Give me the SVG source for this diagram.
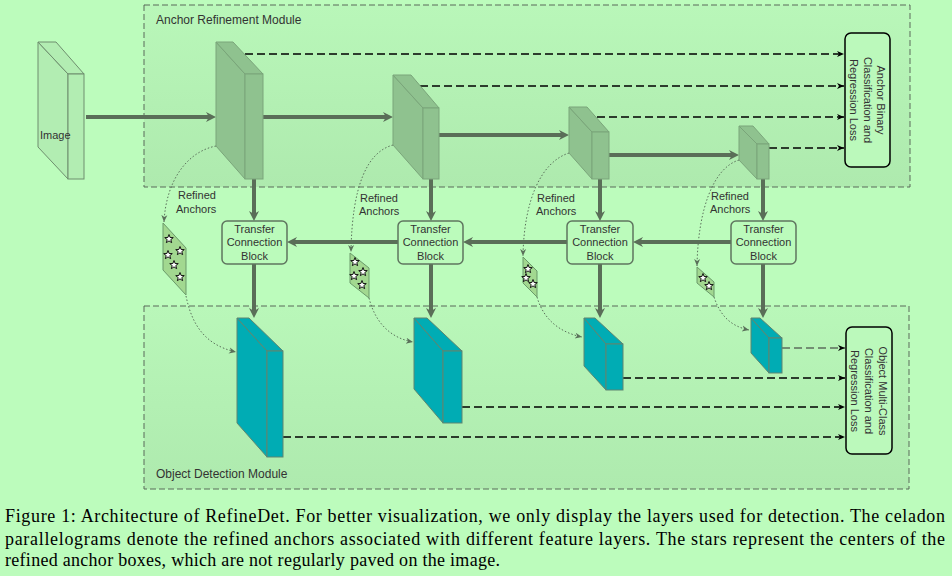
<svg xmlns="http://www.w3.org/2000/svg" xmlns:xlink="http://www.w3.org/1999/xlink" width="952" height="576" viewBox="0 0 952 576">
<style>
.lbl{font-family:"Liberation Sans",Arial,sans-serif;fill:#333;}
.mod{font-size:12px;}
.sm{font-size:11px;}
.cap{font-family:"Liberation Serif","Times New Roman",serif;font-size:18px;fill:#000;}
.modbox{fill:url(#modg);stroke:#5a6a5a;stroke-width:1;stroke-dasharray:6 3;}
.thick{stroke:#5a6e58;stroke-width:4;fill:none;marker-end:url(#thk);}
.dash{stroke:#000;stroke-width:1.3;stroke-dasharray:8 4;fill:none;marker-end:url(#dsh);}
.dashg{stroke:#5e6e5e;stroke-width:1.3;stroke-dasharray:8 4;fill:none;marker-end:url(#dsh);}
.dot{stroke:#5a705a;stroke-width:1;stroke-dasharray:1.5 2;fill:none;marker-end:url(#dt);}
.arm{fill:#8fc28f;stroke:#7aa57a;stroke-width:1;}
.odm{fill:#00acb4;stroke:#5e8570;stroke-width:1;}
.img{fill:#b2edb2;stroke:#6e8e6e;stroke-width:1;}
.tcb{fill:#bbfbbb;stroke:#5f755f;stroke-width:1.5;}
.loss{fill:#bbf9bb;stroke:#000;stroke-width:1.5;}
.par{fill:#a2d890;stroke:#6a9a6a;stroke-width:1;}
.star{fill:#fff;stroke:#000;stroke-width:0.9;}
</style>
<defs>
<linearGradient id="modg" x1="0" y1="0" x2="0" y2="1">
<stop offset="0" stop-color="#b9f7b9"/>
<stop offset="1" stop-color="#aeeaae"/>
</linearGradient>
<marker id="thk" markerUnits="userSpaceOnUse" viewBox="0 0 10 10" markerWidth="10" markerHeight="10" refX="4" refY="5" orient="auto">
<path d="M0,0 L10,5 L0,10 L3,5 Z" fill="#5a6e58"/>
</marker>
<marker id="dsh" markerUnits="userSpaceOnUse" viewBox="0 0 8 8" markerWidth="8" markerHeight="8" refX="7" refY="4" orient="auto">
<path d="M0,1 L7,4 L0,7 L2,4 Z" fill="#000"/>
</marker>
<marker id="dt" markerUnits="userSpaceOnUse" viewBox="0 0 8 8" markerWidth="8" markerHeight="8" refX="7" refY="4" orient="auto">
<path d="M0,1 L7,4 L0,7 L2,4 Z" fill="#5a705a"/>
</marker>
<path id="st" class="star" d="M0,-4.5 L1.12,-1.54 L4.28,-1.39 L1.81,0.59 L2.65,3.64 L0,1.9 L-2.65,3.64 L-1.81,0.59 L-4.28,-1.39 L-1.12,-1.54 Z"/>
</defs>
<rect width="952" height="576" fill="#bcfcbc"/>

<g id="arm-module">
<rect class="modbox" x="144" y="5" width="766" height="182"/>
<text class="lbl mod" x="156" y="24">Anchor Refinement Module</text>
</g>
<g id="odm-module">
<rect class="modbox" x="144" y="306" width="765" height="183"/>
<text class="lbl mod" x="156" y="478">Object Detection Module</text>
</g>

<g id="connectors">
<line class="thick" x1="86" y1="117" x2="210" y2="117"/>
<line class="thick" x1="262" y1="117" x2="387" y2="117"/>
<line class="thick" x1="438" y1="135" x2="563" y2="135"/>
<line class="thick" x1="608" y1="155" x2="733" y2="155"/>
<line class="dash" x1="245" y1="54" x2="844" y2="54"/>
<line class="dash" x1="420" y1="86" x2="844" y2="86"/>
<line class="dash" x1="597" y1="117" x2="844" y2="117"/>
<line class="dash" x1="769" y1="148" x2="844" y2="148"/>
<line class="thick" x1="254" y1="179" x2="254" y2="215"/>
<line class="thick" x1="431" y1="179" x2="431" y2="215"/>
<line class="thick" x1="600" y1="179" x2="600" y2="215"/>
<line class="thick" x1="763" y1="179" x2="763" y2="215"/>
<line class="thick" x1="731" y1="242" x2="639" y2="242"/>
<line class="thick" x1="567" y1="242" x2="469" y2="242"/>
<line class="thick" x1="398" y1="242" x2="293" y2="242"/>
<line class="thick" x1="254" y1="264" x2="254" y2="312"/>
<line class="thick" x1="431" y1="264" x2="431" y2="312"/>
<line class="thick" x1="600" y1="264" x2="600" y2="312"/>
<line class="thick" x1="763" y1="264" x2="763" y2="312"/>
<line class="dash" x1="283" y1="437" x2="845" y2="437"/>
<line class="dash" x1="462" y1="407" x2="845" y2="407"/>
<line class="dash" x1="623" y1="378" x2="845" y2="378"/>
<line class="dashg" x1="782" y1="348" x2="845" y2="348"/>
<path class="dot" d="M216,146 C186,152 166,182 164,222"/>
<path class="dot" d="M186,296 C192,325 205,345 236,352"/>
<path class="dot" d="M393,145 C367,152 352,186 351,252"/>
<path class="dot" d="M369,298 C375,322 390,338 413,342"/>
<path class="dot" d="M569,153 C541,162 524,200 523,256"/>
<path class="dot" d="M537,297 C543,318 558,332 582,337"/>
<path class="dot" d="M739,160 C713,168 698,210 697,266"/>
<path class="dot" d="M714,297 C720,315 730,326 749,330"/>
</g>

<g id="image">
<polygon class="img" points="38,42 68,74 68,179 38,147"/>
<polygon class="img" points="38,42 56,42 84,74 68,74"/>
<rect class="img" x="68" y="74" width="16" height="105"/>
<text class="lbl sm" x="40" y="139">Image</text>
</g>

<g id="arm1">
<polygon class="arm" points="216,42 245,74 245,179 216,146"/>
<polygon class="arm" points="216,42 233,42 263,74 245,74"/>
<rect class="arm" x="245" y="74" width="18" height="105"/>
</g>
<g id="arm2">
<polygon class="arm" points="393,75 423,108 423,179 393,145"/>
<polygon class="arm" points="393,75 411,75 439,108 423,108"/>
<rect class="arm" x="423" y="108" width="16" height="71"/>
</g>
<g id="arm3">
<polygon class="arm" points="569,107 592,132 592,179 569,153"/>
<polygon class="arm" points="569,107 587,107 609,132 592,132"/>
<rect class="arm" x="592" y="132" width="17" height="47"/>
</g>
<g id="arm4">
<polygon class="arm" points="739,126 757,144 757,179 739,160"/>
<polygon class="arm" points="739,126 753,126 769,144 757,144"/>
<rect class="arm" x="757" y="144" width="12" height="35"/>
</g>

<g id="loss-arm">
<rect class="loss" x="845" y="33" width="45" height="134" rx="6"/>
<g transform="translate(867.5,100) rotate(90)">
<text class="lbl sm" text-anchor="middle" x="0" y="-9">Anchor Binary</text>
<text class="lbl sm" text-anchor="middle" x="0" y="4">Classification and</text>
<text class="lbl sm" text-anchor="middle" x="0" y="17.5">Regression Loss</text>
</g>
</g>

<g id="ra1">
<text class="lbl sm" x="178" y="199">Refined</text>
<text class="lbl sm" x="176" y="213">Anchors</text>
</g>
<g id="ra2">
<text class="lbl sm" x="360" y="202">Refined</text>
<text class="lbl sm" x="359" y="215">Anchors</text>
</g>
<g id="ra3">
<text class="lbl sm" x="537" y="202">Refined</text>
<text class="lbl sm" x="536" y="215">Anchors</text>
</g>
<g id="ra4">
<text class="lbl sm" x="711" y="200">Refined</text>
<text class="lbl sm" x="710" y="213">Anchors</text>
</g>

<g id="tcb1">
<rect class="tcb" x="222" y="221" width="65" height="43" rx="5"/>
<text class="lbl sm" text-anchor="middle" x="254.5" y="233">Transfer</text>
<text class="lbl sm" text-anchor="middle" x="254.5" y="246">Connection</text>
<text class="lbl sm" text-anchor="middle" x="254.5" y="260">Block</text>
</g>
<g id="tcb2">
<rect class="tcb" x="398" y="221" width="65" height="43" rx="5"/>
<text class="lbl sm" text-anchor="middle" x="430.5" y="233">Transfer</text>
<text class="lbl sm" text-anchor="middle" x="430.5" y="246">Connection</text>
<text class="lbl sm" text-anchor="middle" x="430.5" y="260">Block</text>
</g>
<g id="tcb3">
<rect class="tcb" x="567" y="221" width="66" height="43" rx="5"/>
<text class="lbl sm" text-anchor="middle" x="600" y="233">Transfer</text>
<text class="lbl sm" text-anchor="middle" x="600" y="246">Connection</text>
<text class="lbl sm" text-anchor="middle" x="600" y="260">Block</text>
</g>
<g id="tcb4">
<rect class="tcb" x="731" y="221" width="65" height="43" rx="5"/>
<text class="lbl sm" text-anchor="middle" x="763.5" y="233">Transfer</text>
<text class="lbl sm" text-anchor="middle" x="763.5" y="246">Connection</text>
<text class="lbl sm" text-anchor="middle" x="763.5" y="260">Block</text>
</g>

<g id="anchors1">
<polygon class="par" points="163,223 186,248 186,295 163,270"/>
<use xlink:href="#st" x="169" y="239"/>
<use xlink:href="#st" x="180" y="251"/>
<use xlink:href="#st" x="168" y="255"/>
<use xlink:href="#st" x="174" y="265"/>
<use xlink:href="#st" x="180" y="277"/>
</g>
<g id="anchors2">
<polygon class="par" points="350,253 369,268 369,298 350,283"/>
<use xlink:href="#st" x="355" y="262"/>
<use xlink:href="#st" x="363" y="272"/>
<use xlink:href="#st" x="354" y="276"/>
<use xlink:href="#st" x="362" y="285"/>
</g>
<g id="anchors3">
<polygon class="par" points="523,257 537,271 537,297 523,283"/>
<use xlink:href="#st" x="528" y="269"/>
<use xlink:href="#st" x="526" y="278"/>
<use xlink:href="#st" x="533" y="284"/>
</g>
<g id="anchors4">
<polygon class="par" points="697,267 714,282 714,297 697,283"/>
<use xlink:href="#st" x="703" y="278"/>
<use xlink:href="#st" x="709" y="286"/>
</g>

<g id="odm1">
<polygon class="odm" points="237,318 267,351 267,457 237,423"/>
<polygon class="odm" points="237,318 249,318 283,351 267,351"/>
<rect class="odm" x="267" y="351" width="16" height="106"/>
</g>
<g id="odm2">
<polygon class="odm" points="414,318 443,351 443,423 414,389"/>
<polygon class="odm" points="414,318 427,318 462,351 443,351"/>
<rect class="odm" x="443" y="351" width="19" height="72"/>
</g>
<g id="odm3">
<polygon class="odm" points="584,318 606,344 606,390 584,366"/>
<polygon class="odm" points="584,318 595,318 623,344 606,344"/>
<rect class="odm" x="606" y="344" width="17" height="46"/>
</g>
<g id="odm4">
<polygon class="odm" points="751,318 769,338 769,373 751,353"/>
<polygon class="odm" points="751,318 760,318 782,338 769,338"/>
<rect class="odm" x="769" y="338" width="13" height="35"/>
</g>

<g id="loss-odm">
<rect class="loss" x="846" y="327" width="46" height="127" rx="6"/>
<g transform="translate(869,391) rotate(90)">
<text class="lbl sm" text-anchor="middle" x="0" y="-10">Object Multi-Class</text>
<text class="lbl sm" text-anchor="middle" x="0" y="4">Classification and</text>
<text class="lbl sm" text-anchor="middle" x="0" y="18">Regression Loss</text>
</g>
</g>

<g id="caption">
<text class="cap" x="5" y="522" textLength="940" lengthAdjust="spacing">Figure 1: Architecture of RefineDet. For better visualization, we only display the layers used for detection. The celadon</text>
<text class="cap" x="5" y="545" textLength="940" lengthAdjust="spacing">parallelograms denote the refined anchors associated with different feature layers. The stars represent the centers of the</text>
<text class="cap" x="5" y="566" textLength="495" lengthAdjust="spacing">refined anchor boxes, which are not regularly paved on the image.</text>
</g>
</svg>
